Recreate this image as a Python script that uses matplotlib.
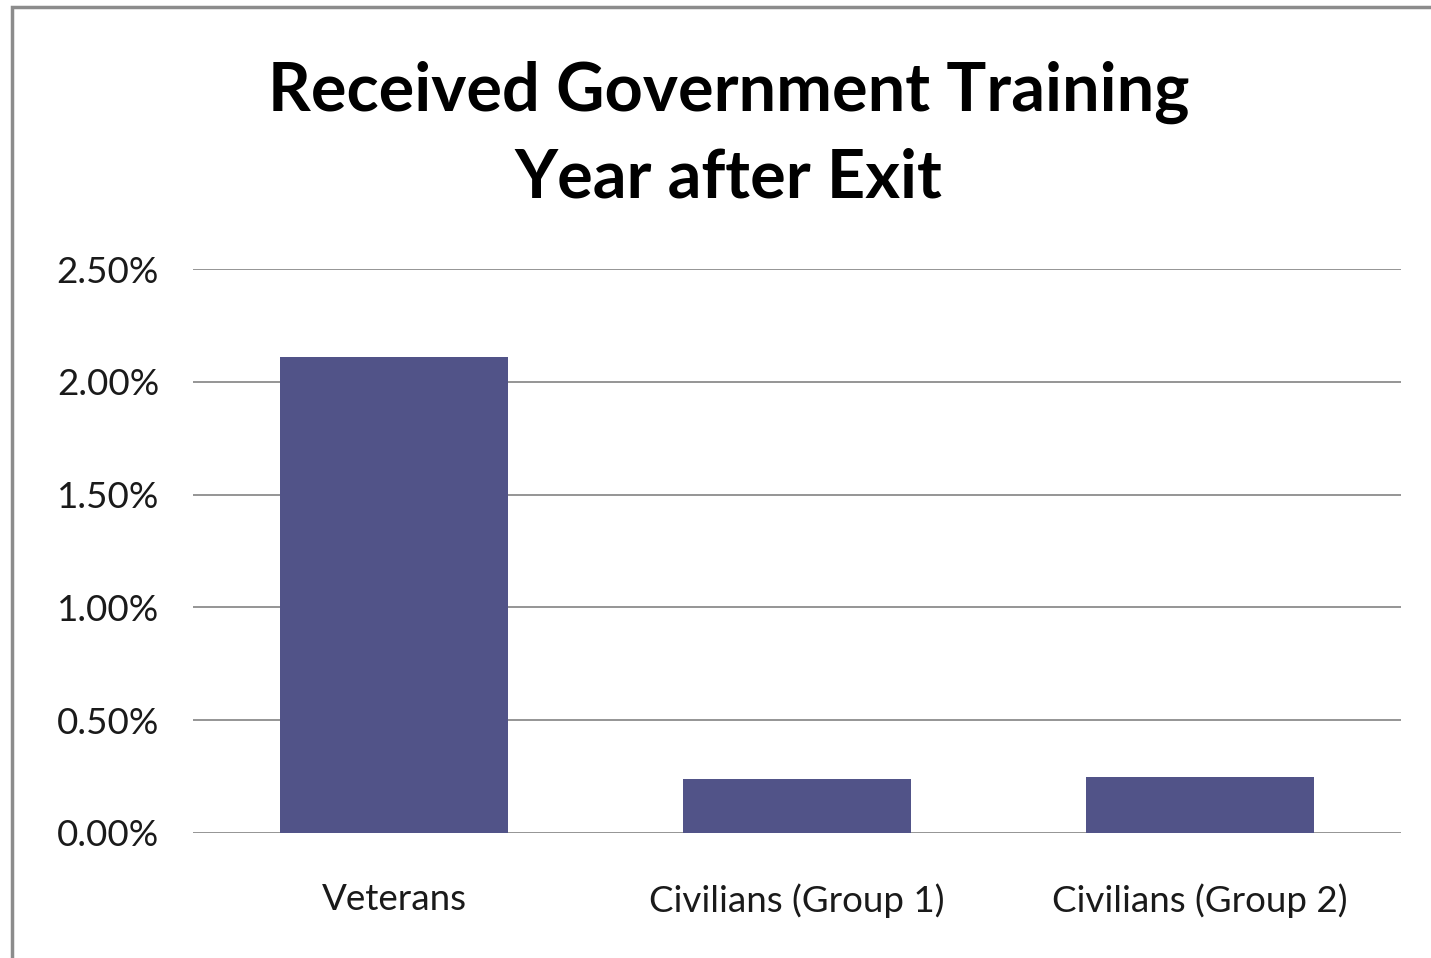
import matplotlib
matplotlib.use('Agg')
import matplotlib.pyplot as plt
from matplotlib.patches import Rectangle
from matplotlib.ticker import FuncFormatter

# data
groups = ['Veterans', 'Civilians (Group 1)', 'Civilians (Group 2)']
rates = [0.0211, 0.0024, 0.0025]
yticks = [0.0, 0.005, 0.01, 0.015, 0.02, 0.025]

plt.rcParams['font.family'] = ['Lato', 'DejaVu Sans']

fig = plt.figure(figsize=(14.31, 9.58), dpi=100)
ax = fig.add_axes([0.1349, 0.1305, 0.8441, 0.5887])

# outer chart border (right/bottom edges fall off the canvas)
fig.patches.append(Rectangle((0.0084, -0.05), 1.1, 1.0423, transform=fig.transFigure,
                             fill=False, edgecolor='#8c8c8c', lw=2.5))

x = range(len(groups))
ax.bar(x, rates, width=0.566, color='#515388', zorder=3)

ax.set_xlim(-0.5, 2.5)
ax.set_ylim(0, 0.025)
ax.set_yticks(yticks)
ax.yaxis.set_major_formatter(FuncFormatter(lambda v, p: '%.2f%%' % (v * 100)))
ax.set_xticks(list(x))
ax.set_xticklabels(groups)
ax.grid(axis='y', color='#8c8c8c', lw=1.3, zorder=0)
for s in ax.spines.values():
    s.set_visible(False)
ax.tick_params(axis='both', length=0, labelsize=26.5, colors='#1a1a1a')
ax.tick_params(axis='y', pad=24.5)
ax.tick_params(axis='x', pad=36)

fig.text(0.509, 0.885, 'Received Government Training', ha='center', va='baseline',
         fontsize=48, fontweight='bold', color='black')
fig.text(0.509, 0.794, 'Year after Exit', ha='center', va='baseline',
         fontsize=48, fontweight='bold', color='black')

fig.savefig('out.png', dpi=100)
